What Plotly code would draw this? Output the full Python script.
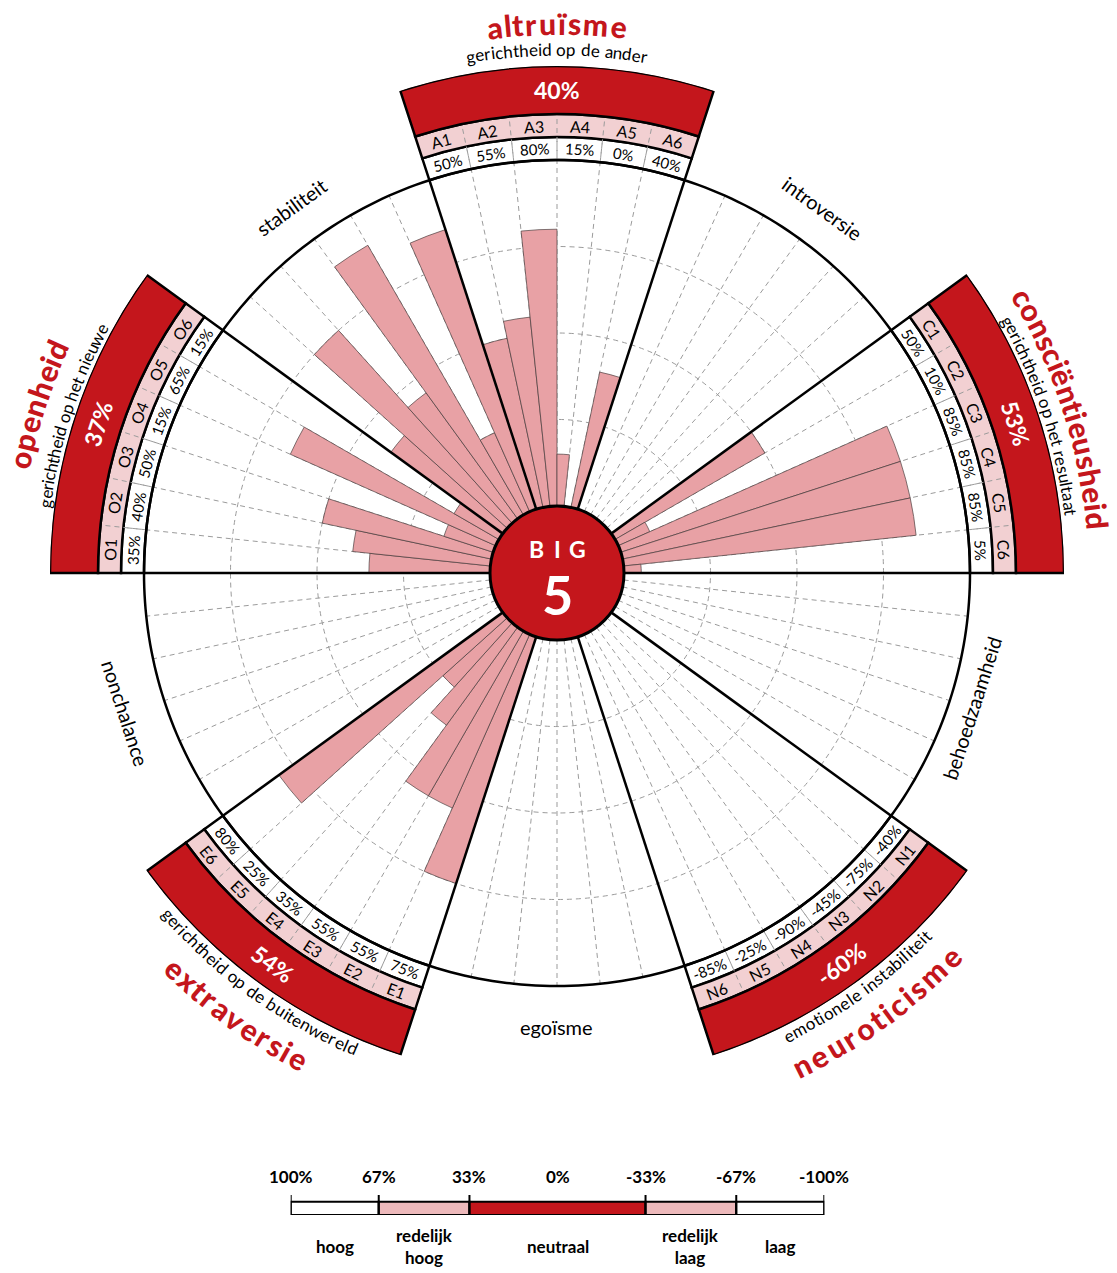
import math
import plotly.graph_objects as go

# ---------------- data ----------------
domain_keys = ["A", "C", "N", "E", "O"]
domain_names = ["altruïsme", "consciëntieusheid", "neuroticisme", "extraversie", "openheid"]
domain_subtitles = ["gerichtheid op de ander", "gerichtheid op het resultaat",
                    "emotionele instabiliteit", "gerichtheid op de buitenwereld",
                    "gerichtheid op het nieuwe"]
domain_scores = [40, 53, -60, 54, 37]
opposite_labels = ["egoïsme", "nonchalance", "stabiliteit", "introversie", "behoedzaamheid"]

A_vals = [50, 55, 80, 15, 0, 40]
C_vals = [50, 10, 85, 85, 85, 5]
N_vals = [-40, -75, -45, -90, -25, -85]
E_vals = [75, 55, 55, 35, 25, 80]
O_vals = [35, 40, 50, 15, 65, 15]
facet_values = [A_vals, C_vals, N_vals, E_vals, O_vals]

legend_ticks = [100, 67, 33, 0, -33, -67, -100]
legend_tick_labels = ["100%", "67%", "33%", "0%", "-33%", "-67%", "-100%"]
legend_bounds = [100, 67, 33, -33, -67, -100]
legend_classes = ["hoog", "redelijk<br>hoog", "neutraal", "redelijk<br>laag", "laag"]

# ---------------- layout / style ----------------
W, H = 1117, 1273
CX, CY = 557, 573
R_HOLE, R_MAIN, R_PCT, R_LAB, R_OUT = 67, 413, 436, 459, 507
K = (R_MAIN - R_HOLE) / 100.0


def val(rpx):
    return (rpx - R_HOLE) / K


V_PCT, V_LAB, V_OUT = val(R_PCT), val(R_LAB), val(R_OUT)
domain_mid = [90, 18, 306, 234, 162]
SECTOR = 36
FACET_W = 6
name_arc_px = [141, 254, 202, 170, 134]
sub_arc_px = [182, 210, 178, 239, 193]
opp_label_r = [454, 454, 452, 451, 436]
name_r = [550, 543, 549, 549, 549]
sub_r = [524, 517, 517, 517, 517]

RED = "#C4161C"
PINK_RING = "#F2D0D2"
BAR_PINK = "#E8A1A5"
LEG_PINK = "#EDB9BB"
GRID = "#9b9b9b"
FONT = "Lato"

CW = {'a': .49, 'b': .55, 'c': .46, 'd': .55, 'e': .52, 'f': .32, 'g': .50, 'h': .55, 'i': .24,
      'j': .24, 'k': .50, 'l': .24, 'm': .82, 'n': .55, 'o': .55, 'p': .55, 'q': .55, 'r': .36,
      's': .42, 't': .34, 'u': .55, 'v': .50, 'w': .76, 'x': .49, 'y': .50, 'z': .45, ' ': .26,
      'ë': .52, 'ï': .26}


def px(r, th):
    t = math.radians(th)
    return CX + r * math.cos(t), CY - r * math.sin(t)


def upright(th):
    a = 90 - th
    a = (a + 180) % 360 - 180
    if a > 90:
        a -= 180
    elif a < -90:
        a += 180
    return a


def flipped(th):
    return math.sin(math.radians(th)) < 0


annotations = []


def ann(text, x, y, angle=0, size=15, color="black", weight="normal"):
    annotations.append(dict(
        text=text, x=x / W, y=1 - y / H, xref="paper", yref="paper",
        showarrow=False, textangle=angle, xanchor="center", yanchor="middle",
        font=dict(family=FONT, size=size, color=color, weight=weight)))


def polar_text(text, r, th, size, color="black", weight="normal"):
    x, y = px(r, th)
    ann(text, x, y, upright(th), size, color, weight)


def arc_text(s, r, th_mid, size, target, color="black", weight="normal", factor=1.0):
    ws = [CW.get(c, 0.5) * size * factor for c in s]
    n = len(s)
    track = (target - sum(ws)) / (n - 1)
    sign = 1 if flipped(th_mid) else -1
    pos = 0.0
    for c, w in zip(s, ws):
        center = pos + w / 2
        pos += w + track
        if c == " ":
            continue
        th = th_mid + sign * math.degrees((center - target / 2) / r)
        polar_text(c, r, th, size, color, weight)


fig = go.Figure()

# white cover outside the main circle for the "opposite" sectors
opp_theta = [(m + 180) % 360 for m in domain_mid]
fig.add_trace(go.Barpolar(theta=opp_theta, r=[V_OUT - 100] * 5, base=[100] * 5,
                          width=[SECTOR] * 5, marker=dict(color="white", line=dict(width=0)),
                          hoverinfo="skip", showlegend=False))

# facet bars
bar_theta, bar_r = [], []
for mid, vals in zip(domain_mid, facet_values):
    for i, v in enumerate(vals):
        ang = mid + 15 - FACET_W * i
        if v < 0:
            ang += 180
        bar_theta.append(ang % 360)
        bar_r.append(abs(v))
fig.add_trace(go.Barpolar(theta=bar_theta, r=bar_r, width=[FACET_W] * len(bar_r),
                          marker=dict(color=BAR_PINK, line=dict(color="rgba(70,60,60,0.85)", width=0.8)),
                          hoverinfo="skip", showlegend=False))

# domain rings
fig.add_trace(go.Barpolar(theta=domain_mid, r=[V_PCT - 100] * 5, base=[100] * 5, width=[SECTOR] * 5,
                          marker=dict(color="rgba(0,0,0,0)", line=dict(color="black", width=2.5)),
                          hoverinfo="skip", showlegend=False))
fig.add_trace(go.Barpolar(theta=domain_mid, r=[V_LAB - V_PCT] * 5, base=[V_PCT] * 5, width=[SECTOR] * 5,
                          marker=dict(color=PINK_RING, line=dict(color="black", width=2.5)),
                          hoverinfo="skip", showlegend=False))
fig.add_trace(go.Barpolar(theta=domain_mid, r=[V_OUT - V_LAB] * 5, base=[V_LAB] * 5, width=[SECTOR] * 5,
                          marker=dict(color=RED, line=dict(color="black", width=2.5)),
                          hoverinfo="skip", showlegend=False))

# dashed facet separators through the rings
sr, st = [], []
for mid in domain_mid:
    for j in range(1, 6):
        b = mid - 18 + FACET_W * j
        sr += [100, V_LAB - 0.5, None]
        st += [b, b, None]
fig.add_trace(go.Scatterpolar(r=sr, theta=st, mode="lines",
                              line=dict(color=GRID, width=1, dash="5px,4px"),
                              hoverinfo="skip", showlegend=False))

# main circle and sector edges
circ_t = list(range(0, 361))
fig.add_trace(go.Scatterpolar(r=[100] * len(circ_t), theta=circ_t, mode="lines",
                              line=dict(color="black", width=2.5), hoverinfo="skip", showlegend=False))
er, et = [], []
for k in range(10):
    er += [0, 100, None]
    et += [k * SECTOR, k * SECTOR, None]
fig.add_trace(go.Scatterpolar(r=er, theta=et, mode="lines",
                              line=dict(color="black", width=2.5), hoverinfo="skip", showlegend=False))

# ring texts
for key, mid, vals, score in zip(domain_keys, domain_mid, facet_values, domain_scores):
    for i, v in enumerate(vals):
        ang = mid + 15 - FACET_W * i
        polar_text(f"{v}%", (R_MAIN + R_PCT) / 2, ang, 15)
        polar_text(f"{key}{i + 1}", (R_PCT + R_LAB) / 2, ang, 16)
    polar_text(f"{score}%", (R_LAB + R_OUT) / 2, mid, 23, "white", "bold")

# domain names and subtitles along the arcs
for name, sub, mid, na, sa, rn, rs in zip(domain_names, domain_subtitles, domain_mid,
                                          name_arc_px, sub_arc_px, name_r, sub_r):
    arc_text(name, rn, mid, 30, na, RED, 900, 1.1)
    arc_text(sub, rs, mid, 17, sa, "black", "normal")

# opposite pole labels
for lab, mid, r in zip(opposite_labels, domain_mid, opp_label_r):
    polar_text(lab, r, (mid + 180) % 360, 20)

# centre circle
fig.add_shape(type="circle", xref="paper", yref="paper",
              x0=(CX - R_HOLE) / W, x1=(CX + R_HOLE) / W,
              y0=1 - (CY + R_HOLE) / H, y1=1 - (CY - R_HOLE) / H,
              fillcolor=RED, line=dict(color="black", width=3), layer="above")
for ch, dx in zip("BIG", [-21, 0, 20]):
    ann(ch, CX + dx, 549, 0, 23, "white", "bold")
ann("5", CX, 595, 0, 54, "white", "bold")

# ---------------- legend scale ----------------
seg_base, seg_len, seg_col = [], [], []
leg_colors = ["white", LEG_PINK, RED, LEG_PINK, "white"]
for hi, lo, c in zip(legend_bounds[:-1], legend_bounds[1:], leg_colors):
    seg_base.append(lo)
    seg_len.append(hi - lo)
    seg_col.append(c)
fig.add_trace(go.Bar(x=seg_len, base=seg_base, y=[6.65] * 5, width=13.3, orientation="h",
                     marker=dict(color=seg_col, line=dict(color="black", width=2)),
                     xaxis="x", yaxis="y", hoverinfo="skip", showlegend=False))
tx, ty = [], []
for t in legend_ticks:
    if t == 0:
        continue
    tx += [t, t, None]
    ty += [0, 20, None]
fig.add_trace(go.Scatter(x=tx, y=ty, mode="lines", line=dict(color="black", width=2),
                         xaxis="x", yaxis="y", hoverinfo="skip", showlegend=False))
for t, lab in zip(legend_ticks, legend_tick_labels):
    annotations.append(dict(text=lab, x=t, y=1 - 1176 / H, xref="x", yref="paper", showarrow=False,
                            xanchor="center", yanchor="middle",
                            font=dict(family=FONT, size=17, color="black", weight="bold")))
for hi, lo, lab in zip(legend_bounds[:-1], legend_bounds[1:], legend_classes):
    annotations.append(dict(text=lab, x=(hi + lo) / 2, y=1 - 1246 / H, xref="x", yref="paper",
                            showarrow=False, xanchor="center", yanchor="middle",
                            font=dict(family=FONT, size=17, color="black", weight="bold")))

fig.update_layout(
    width=W, height=H, margin=dict(l=0, r=0, t=0, b=0),
    paper_bgcolor="white", plot_bgcolor="white", showlegend=False,
    barmode="overlay",
    polar=dict(
        domain=dict(x=[(CX - R_OUT) / W, (CX + R_OUT) / W],
                    y=[1 - (CY + R_OUT) / H, 1 - (CY - R_OUT) / H]),
        hole=R_HOLE / R_OUT, bgcolor="white",
        radialaxis=dict(range=[0, V_OUT], tickvals=[25, 50, 75], showticklabels=False, ticks="",
                        showline=False, gridcolor=GRID, gridwidth=1, griddash="5px,4px"),
        angularaxis=dict(rotation=0, direction="counterclockwise", tickmode="linear", tick0=0,
                         dtick=FACET_W, showticklabels=False, ticks="", showline=False,
                         gridcolor=GRID, gridwidth=1, griddash="5px,4px"),
        barmode="overlay",
    ),
    xaxis=dict(domain=[290.7 / W, 824.3 / W], range=[100, -100], visible=False, fixedrange=True),
    yaxis=dict(domain=[1 - 1215 / H, 1 - 1195 / H], range=[0, 20], visible=False, fixedrange=True),
    annotations=annotations,
)

fig.write_html("out.html", config={"displayModeBar": False},
               post_script="document.body.style.margin='0';")
